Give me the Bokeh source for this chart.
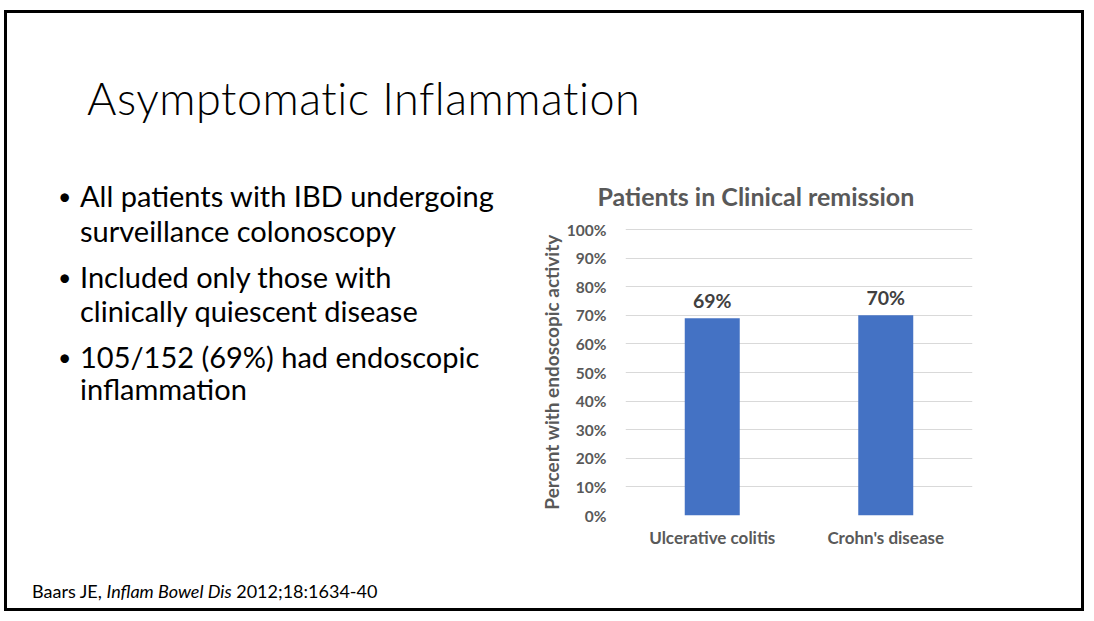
from bokeh.plotting import figure
from bokeh.models import (FactorRange, Range1d, ColumnDataSource, Div,
                          PrintfTickFormatter, FixedTicker)
from bokeh.layouts import column, row
from bokeh.core.properties import value
from bokeh.embed import file_html
from bokeh.resources import INLINE

# ---- data ----
categories = ["Ulcerative colitis", "Crohn's disease"]
percent_values = [69, 70]
value_labels = ["69%", "70%"]
y_ticks = [0, 10, 20, 30, 40, 50, 60, 70, 80, 90, 100]

slide_title = "Asymptomatic Inflammation"
chart_title = "Patients in Clinical remission"
y_axis_title = "Percent with endoscopic activity"
bullet_lines = [
    ("\u2022", "All patients with IBD undergoing"),
    ("", "surveillance colonoscopy"),
    ("\u2022", "Included only those with"),
    ("", "clinically quiescent disease"),
    ("\u2022", "105/152 (69%) had endoscopic"),
    ("", "inflammation"),
]
footer_html = "Baars JE, <i>Inflam Bowel Dis</i> 2012;18:1634-40"

FONT = "Lato"
GRAY = "#595959"

# ---- geometry (page px) ----
OX, OY = 7, 13            # content origin inside the slide border
CONTENT_R, CONTENT_B = 1081, 608
SPLIT_X, SPLIT_Y = 530, 150
FRAME_L, FRAME_R, FRAME_T, FRAME_B = 625, 972, 228, 515


def span(x, yc, text, size, lh, extra=""):
    return ('<span style="position:absolute;left:%dpx;top:%dpx;font-size:%spx;'
            'line-height:%dpx;white-space:nowrap;%s">%s</span>'
            % (x, yc - lh / 2, size, lh, extra, text))


def box(w, h, inner):
    return ('<div style="position:relative;width:%dpx;height:%dpx;font-family:Lato,sans-serif;'
            'color:black;overflow:visible">%s</div>' % (w, h, inner))


# top area: slide title
top_w, top_h = CONTENT_R - OX, SPLIT_Y - OY
top_div = Div(text=box(top_w, top_h,
                       span(87 - OX, 98 - OY, slide_title, 45, 54,
                            "font-weight:300;letter-spacing:0.5px;")),
              width=top_w, height=top_h, margin=0)

# left area: bullets + footer
left_w, left_h = SPLIT_X - OX, CONTENT_B - SPLIT_Y
line_ys = [196, 231, 277, 311, 357, 389]
parts = []
for (b, t), yy in zip(bullet_lines, line_ys):
    if b:
        parts.append(span(58 - OX, yy - SPLIT_Y, b, 23, 30))
    parts.append(span(80 - OX, yy - SPLIT_Y, t, 29, 34))
parts.append(span(32 - OX, 591 - SPLIT_Y, footer_html, 18, 24))
left_div = Div(text=box(left_w, left_h, "".join(parts)), width=left_w, height=left_h,
               margin=0)

# chart
fig_w, fig_h = CONTENT_R - SPLIT_X, CONTENT_B - SPLIT_Y
p = figure(width=fig_w, height=fig_h, output_backend="svg", toolbar_location=None,
           x_range=FactorRange(factors=categories, range_padding=0),
           y_range=Range1d(0, 100.35),
           min_border_left=FRAME_L - SPLIT_X, min_border_right=CONTENT_R - FRAME_R,
           min_border_top=FRAME_T - SPLIT_Y, min_border_bottom=CONTENT_B - FRAME_B,
           margin=0)
p.outline_line_color = None
p.background_fill_color = "white"
p.border_fill_color = "white"

p.title.text = chart_title
p.title.align = "left"
p.title.offset = -28
p.title.text_font = FONT
p.title.text_font_style = "bold"
p.title.text_font_size = "25px"
p.title.text_color = GRAY
p.title.standoff = 35

src = ColumnDataSource(dict(cat=categories, val=percent_values, lab=value_labels))
p.vbar(x="cat", top="val", width=0.317, source=src, color="#4472C4", line_color=None)
p.text(x="cat", y="val", text="lab", source=src, y_offset=-18,
       text_align="center", text_baseline="middle",
       text_font=value(FONT), text_font_style="bold", text_font_size="19.5px",
       text_color="#404040")

p.yaxis.ticker = FixedTicker(ticks=y_ticks)
p.yaxis.formatter = PrintfTickFormatter(format="%d%%")
p.yaxis.axis_line_color = None
p.yaxis.major_tick_line_color = None
p.yaxis.minor_tick_line_color = None
p.yaxis.major_tick_out = 0
p.yaxis.major_tick_in = 0
p.yaxis.major_label_standoff = 19
p.yaxis.major_label_text_font = FONT
p.yaxis.major_label_text_font_style = "bold"
p.yaxis.major_label_text_font_size = "15.5px"
p.yaxis.major_label_text_color = GRAY
p.yaxis.axis_label = y_axis_title
p.yaxis.axis_label_text_font = FONT
p.yaxis.axis_label_text_font_style = "bold"
p.yaxis.axis_label_text_font_size = "19px"
p.yaxis.axis_label_text_color = GRAY
p.yaxis.axis_label_standoff = 1

p.xaxis.axis_line_color = None
p.xaxis.major_tick_line_color = None
p.xaxis.major_tick_out = 0
p.xaxis.major_tick_in = 0
p.xaxis.major_label_standoff = 11
p.xaxis.major_label_text_font = FONT
p.xaxis.major_label_text_font_style = "bold"
p.xaxis.major_label_text_font_size = "17px"
p.xaxis.major_label_text_color = GRAY

p.xgrid.grid_line_color = None
p.ygrid.grid_line_color = "#D9D9D9"
p.ygrid.grid_line_width = 1

layout = column(top_div, row(left_div, p, spacing=0, margin=0), spacing=0,
                margin=(10, 0, 0, 4),
                styles={"border": "3px solid black", "background": "white"})

open("out.html", "w").write(file_html(layout, INLINE))
